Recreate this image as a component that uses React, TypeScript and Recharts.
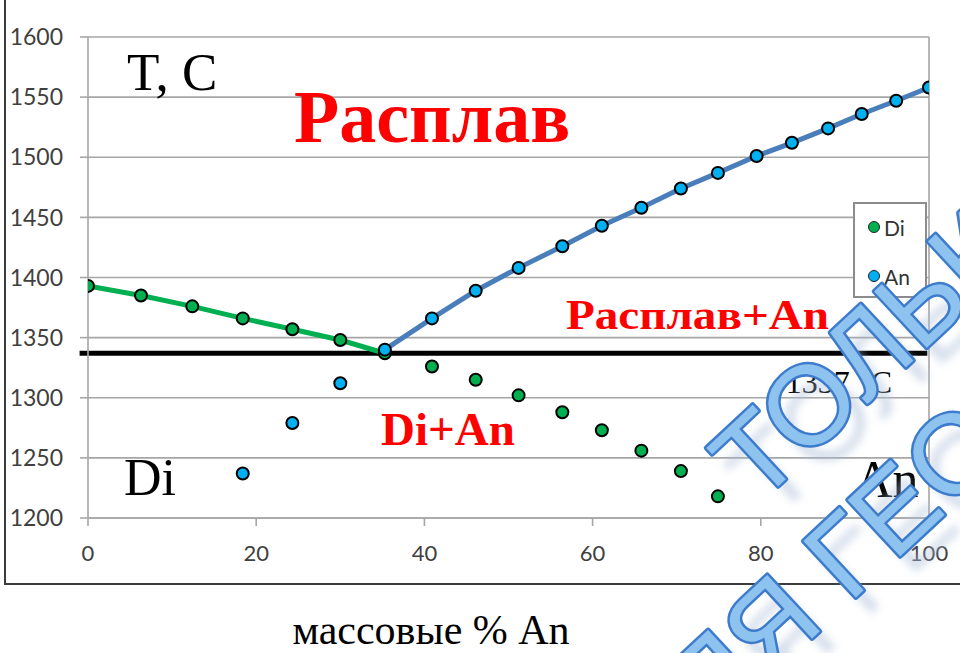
import React from 'react';
import {
  ComposedChart,
  Scatter,
  Line,
  XAxis,
  YAxis,
  CartesianGrid,
  ReferenceLine,
} from 'recharts';

// Di–An binary system: compositions (mass % An) and temperatures (°C)
const DI_LIQUIDUS_X = [0, 6.3, 12.4, 18.4, 24.3, 30, 35.3];
const DI_LIQUIDUS_T = [1393, 1385, 1376, 1366, 1357, 1348, 1337];

const DI_LOWER_X = [40.9, 46.1, 51.2, 56.4, 61.1, 65.8, 70.5, 74.9];
const DI_LOWER_T = [1326, 1315, 1302, 1288, 1273, 1256, 1239, 1218];

const AN_LOWER_X = [18.4, 24.3, 30];
const AN_LOWER_T = [1237, 1279, 1312];

const AN_LIQUIDUS_X = [35.3, 40.9, 46.1, 51.2, 56.4, 61.1, 65.8, 70.5, 74.9, 79.5, 83.7, 88, 92, 96.1, 100];
const AN_LIQUIDUS_T = [1340, 1366, 1389, 1408, 1426, 1443, 1458, 1474, 1487, 1501, 1512, 1524, 1536, 1547, 1558];

const EUTECTIC_T = 1337;

const X_TICKS = [0, 20, 40, 60, 80, 100];
const Y_TICKS = [1200, 1250, 1300, 1350, 1400, 1450, 1500, 1550, 1600];

const SERIES_NAMES = ['Di', 'An'];

const zip = (xs: number[], ts: number[]) => xs.map((x, i) => ({ x, t: ts[i] }));

const diLiquidus = zip(DI_LIQUIDUS_X, DI_LIQUIDUS_T);
const anLiquidus = zip(AN_LIQUIDUS_X, AN_LIQUIDUS_T);
const diPoints = [...diLiquidus, ...zip(DI_LOWER_X, DI_LOWER_T)];
const anPoints = [...zip(AN_LOWER_X, AN_LOWER_T), ...anLiquidus];

const DI_GREEN = '#00b050';
const AN_BLUE = '#00b0f0';
const AN_LINE = '#4a7ebb';
const GRID = '#a6a6a6';
const SERIF = '"Liberation Serif", "Times New Roman", serif';
const SANS = 'Lato, "Open Sans", sans-serif';

const dot = (fill: string) => (props: any) => (
  <circle cx={props.cx} cy={props.cy} r={6} fill={fill} stroke="#000" strokeWidth={2} />
);

function Watermark() {
  const angle = -43;
  const size = 112;
  const lines = [
    { text: 'ТОЛЬКО', x: 757, y: 506 },
    { text: 'ДЛЯ ГЕОЛОГОВ', x: 658, y: 782 },
  ];
  const font = '"Liberation Sans", Arial, sans-serif';
  return (
    <g>
      <defs>
        <filter id="wm-blur" x="-20%" y="-20%" width="140%" height="140%">
          <feGaussianBlur stdDeviation="4" />
        </filter>
      </defs>
      {lines.map((l) => (
        <text
          key={'s' + l.text}
          x={l.x + 16}
          y={l.y + 16}
          transform={`rotate(${angle} ${l.x + 16} ${l.y + 16})`}
          fontFamily={font}
          fontSize={size}
          fill="#a9bcd8"
          opacity={0.5}
          filter="url(#wm-blur)"
        >
          {l.text}
        </text>
      ))}
      {lines.map((l) => (
        <text
          key={'m' + l.text}
          x={l.x}
          y={l.y}
          transform={`rotate(${angle} ${l.x} ${l.y})`}
          fontFamily={font}
          fontSize={size}
          fill="#8ec2ef"
          stroke="#3d7ccc"
          strokeWidth={5}
          strokeLinejoin="round"
          paintOrder="stroke"
        >
          {l.text}
        </text>
      ))}
    </g>
  );
}

export default function App() {
  return (
    <div style={{ position: 'absolute', left: 0, top: 0, width: 960, height: 653, background: '#fff', overflow: 'hidden' }}>
      {/* chart frame */}
      <div
        style={{
          position: 'absolute',
          left: 4,
          top: -2,
          width: 1000,
          height: 587,
          boxSizing: 'border-box',
          border: '2px solid #3c3c3c',
        }}
      />
      <ComposedChart
        width={960}
        height={653}
        margin={{ top: 37, right: 31, bottom: 95, left: 28 }}
        style={{ position: 'absolute', left: 0, top: 0 }}
      >
        <CartesianGrid vertical={false} stroke={GRID} strokeWidth={1.6} />
        <XAxis
          type="number"
          dataKey="x"
          domain={[0, 100]}
          ticks={X_TICKS}
          height={40}
          allowDataOverflow
          axisLine={{ stroke: GRID, strokeWidth: 1.6 }}
          tickLine={{ stroke: GRID, strokeWidth: 1.6 }}
          tickSize={8}
          tickMargin={19}
          tick={{ fill: '#404040', fontSize: 22, fontFamily: SANS }}
        />
        <YAxis
          type="number"
          dataKey="t"
          domain={[1200, 1600]}
          ticks={Y_TICKS}
          width={60}
          allowDataOverflow
          axisLine={{ stroke: GRID, strokeWidth: 1.6 }}
          tickLine={{ stroke: GRID, strokeWidth: 1.6 }}
          tickSize={8}
          tickMargin={17}
          tick={{ fill: '#404040', fontSize: 23, fontFamily: SANS }}
        />
        <ReferenceLine x={100} stroke={GRID} strokeWidth={1.6} />
        <ReferenceLine
          segment={[
            { x: -1, y: EUTECTIC_T },
            { x: 99.8, y: EUTECTIC_T },
          ]}
          ifOverflow="visible"
          stroke="#000"
          strokeWidth={5}
        />
        <Scatter name={SERIES_NAMES[0]} data={diPoints} shape={dot(DI_GREEN)} isAnimationActive={false} />
        <Scatter name={SERIES_NAMES[1]} data={anPoints} shape={dot(AN_BLUE)} isAnimationActive={false} />
        <Line
          data={diLiquidus}
          dataKey="t"
          type="linear"
          stroke={DI_GREEN}
          strokeWidth={5}
          dot={false}
          activeDot={false}
          legendType="none"
          isAnimationActive={false}
        />
        <Line
          data={anLiquidus}
          dataKey="t"
          type="linear"
          stroke={AN_LINE}
          strokeWidth={5}
          dot={false}
          activeDot={false}
          legendType="none"
          isAnimationActive={false}
        />
      </ComposedChart>

      {/* legend */}
      <div
        style={{
          position: 'absolute',
          left: 853,
          top: 202,
          width: 74,
          height: 96,
          boxSizing: 'border-box',
          border: '2px solid #8c8c8c',
          background: '#fff',
        }}
      >
        {SERIES_NAMES.map((name, i) => (
          <div
            key={name}
            style={{
              position: 'absolute',
              left: 12,
              top: 11 + i * 49,
              height: 24,
              display: 'flex',
              alignItems: 'center',
              fontFamily: SANS,
              fontSize: 21,
              color: '#333',
            }}
          >
            <svg width={14} height={14} style={{ marginRight: 3 }}>
              <circle cx={7} cy={7} r={5.5} fill={i === 0 ? DI_GREEN : AN_BLUE} stroke="#222" strokeWidth={1} />
            </svg>
            {name}
          </div>
        ))}
      </div>

      {/* phase-field annotations and watermark */}
      <svg
        width={960}
        height={653}
        style={{ position: 'absolute', left: 0, top: 0, pointerEvents: 'none' }}
      >
        <text x={127} y={90} fontFamily={SERIF} fontSize={53} fill="#000">T, C</text>
        <text x={294} y={142} fontFamily={SERIF} fontWeight="bold" fontSize={74} fill="#ff0000">Расплав</text>
        <text x={566} y={329} fontFamily={SERIF} fontWeight="bold" fontSize={42} fill="#ff0000" textLength={263} lengthAdjust="spacingAndGlyphs">Расплав+An</text>
        <text x={381} y={445} fontFamily={SERIF} fontWeight="bold" fontSize={47} fill="#ff0000">Di+An</text>
        <text x={124} y={495} fontFamily={SERIF} fontSize={52} fill="#000">Di</text>
        <text x={855} y={497} fontFamily={SERIF} fontSize={52} fill="#000">An</text>
        <text x={892} y={393} textAnchor="end" fontFamily={SERIF} fontSize={32} fill="#000">{`${EUTECTIC_T} °C`}</text>
        <text x={431} y={644} textAnchor="middle" fontFamily={SERIF} fontSize={42} fill="#000">массовые % An</text>
        <Watermark />
      </svg>
    </div>
  );
}
